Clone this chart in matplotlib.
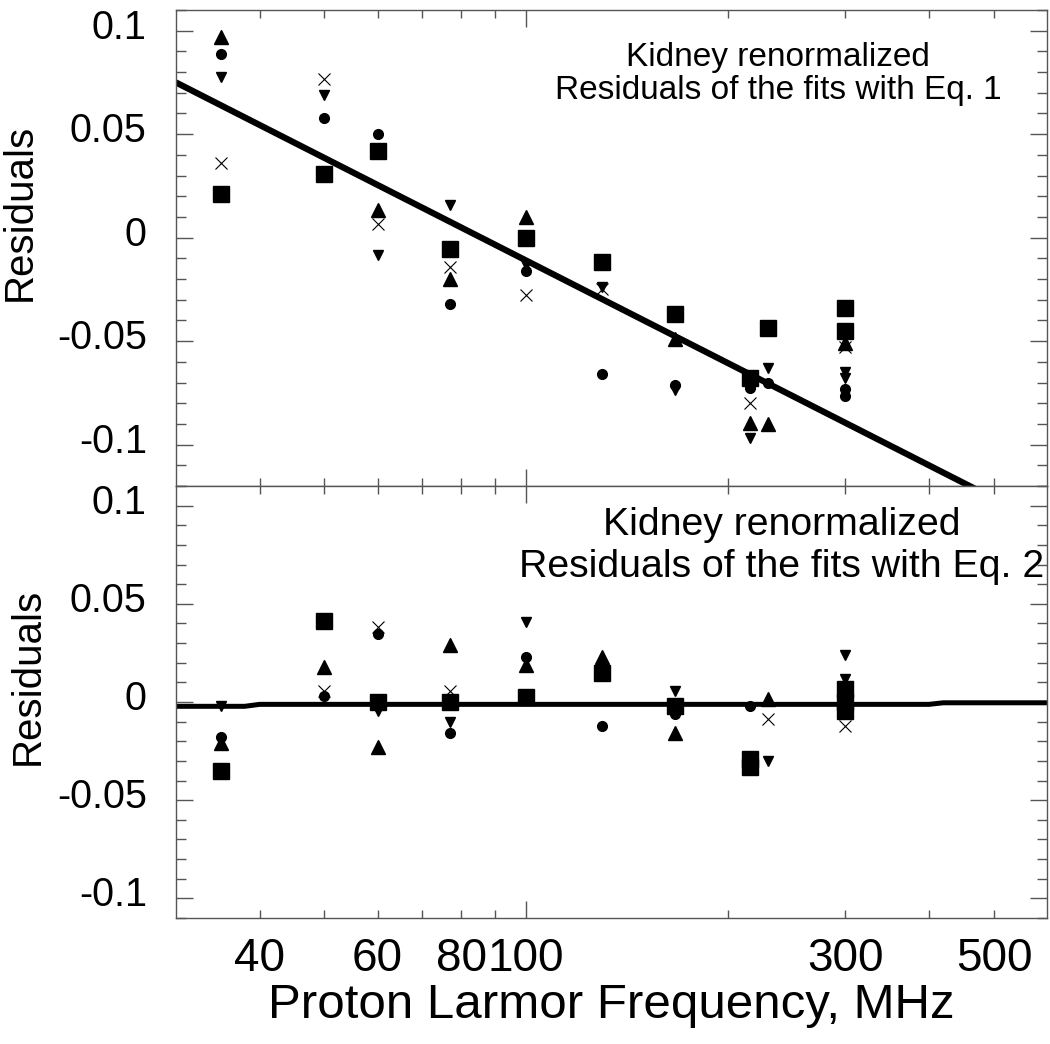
import matplotlib
matplotlib.use("Agg")
import matplotlib.pyplot as plt
from matplotlib.ticker import FixedLocator, FuncFormatter
from matplotlib.transforms import ScaledTranslation

plt.rcParams['font.family'] = ['Liberation Sans', 'DejaVu Sans']
plt.rcParams['axes.unicode_minus'] = False

# residuals of the fits with Eq. 1 (upper panel)
up_f1 = [35, 60, 77, 100, 167, 216, 230, 300]
up_r1 = [0.097, 0.0136, -0.020, 0.010, -0.049, -0.0896, -0.090, -0.051]
circ_f1 = [35, 50, 60, 77, 100, 130, 167, 216, 230, 300, 300]
circ_r1 = [0.0886, 0.058, 0.050, -0.032, -0.016, -0.066, -0.071, -0.0726, -0.070, -0.073, -0.0765]
down_f1 = [35, 50, 60, 77, 100, 130, 167, 216, 230, 300, 300]
down_r1 = [0.0775, 0.069, -0.0082, 0.016, -0.013, -0.024, -0.0737, -0.097, -0.063, -0.065, -0.068]
cross_f1 = [35, 50, 60, 77, 100, 130, 216, 300]
cross_r1 = [0.036, 0.0765, 0.0068, -0.014, -0.0276, -0.025, -0.080, -0.053]
sq_f1 = [35, 50, 60, 77, 100, 130, 167, 216, 230, 300, 300]
sq_r1 = [0.021, 0.031, 0.042, -0.0053, 0.0, -0.0116, -0.037, -0.068, -0.0436, -0.034, -0.045]
fit1_f = [30, 600]
fit1_r = [0.075, -0.139]

# residuals of the fits with Eq. 2 (lower panel)
up_f2 = [35, 50, 60, 77, 100, 130, 167, 230]
up_r2 = [-0.021, 0.0178, -0.023, 0.029, 0.019, 0.023, -0.016, 0.0015]
circ_f2 = [35, 50, 60, 77, 100, 130, 167, 216]
circ_r2 = [-0.018, 0.003, 0.0345, -0.016, 0.023, -0.012, -0.006, -0.002]
down_f2 = [35, 60, 77, 100, 167, 230, 300, 300]
down_r2 = [-0.002, -0.0045, -0.010, 0.0405, 0.0056, -0.030, 0.024, 0.0117]
cross_f2 = [50, 60, 77, 230, 300]
cross_r2 = [0.0056, 0.038, 0.0056, -0.0086, -0.012]
sq_f2 = [35, 50, 60, 77, 100, 130, 167, 216, 216, 300, 300, 300]
sq_r2 = [-0.035, 0.041, 0.0, 0.0, 0.0025, 0.015, -0.002, -0.029, -0.033, 0.0066, 0.0, -0.0046]
fit2_f = [30, 38, 40, 400, 420, 600]
fit2_r = [-0.0022, -0.0022, -0.0012, -0.0012, -0.0004, -0.0004]

xticks_minor = [40, 50, 60, 70, 80, 90, 200, 300, 400, 500]
xlabels_shown = [40, 60, 80, 300, 500]
yticks_major = [-0.1, -0.05, 0, 0.05, 0.1]

fig = plt.figure(figsize=(10.5, 10.44), dpi=100)
gs = fig.add_gridspec(2, 1, height_ratios=[476, 432], hspace=0,
                      left=0.1676, right=0.9971, top=0.9904, bottom=0.1207)
ax1 = fig.add_subplot(gs[0])
ax2 = fig.add_subplot(gs[1], sharex=ax1)

def draw(ax, data, fit_f, fit_r, lw):
    ax.plot(fit_f, fit_r, '-', color='black', lw=lw, solid_capstyle='butt', zorder=2)
    (uf, ur), (cf, cr), (df, dr), (xf, xr), (sf, sr) = data
    ax.plot(uf, ur, '^', color='black', ms=10, ls='none', zorder=3)
    ax.plot(cf, cr, 'o', color='black', ms=7, ls='none', zorder=3)
    ax.plot(df, dr, 'v', color='black', ms=7, ls='none', zorder=3)
    ax.plot(xf, xr, 'x', color='black', ms=8, mew=0.8, ls='none', zorder=3)
    ax.plot(sf, sr, 's', color='black', ms=11, ls='none', zorder=3)

draw(ax1, [(up_f1, up_r1), (circ_f1, circ_r1), (down_f1, down_r1),
           (cross_f1, cross_r1), (sq_f1, sq_r1)], fit1_f, fit1_r, 4.5)
draw(ax2, [(up_f2, up_r2), (circ_f2, circ_r2), (down_f2, down_r2),
           (cross_f2, cross_r2), (sq_f2, sq_r2)], fit2_f, fit2_r, 3.6)

ax1.set_xscale('log')
ax1.set_xlim(30, 600)
ax1.set_ylim(-0.12, 0.11)
ax2.set_ylim(-0.11, 0.11)

ax2.xaxis.set_major_locator(FixedLocator([100]))
ax2.xaxis.set_minor_locator(FixedLocator(xticks_minor))
ax2.xaxis.set_major_formatter(FuncFormatter(lambda v, p: '%d' % v))
ax2.xaxis.set_minor_formatter(FuncFormatter(
    lambda v, p: '%d' % v if int(round(v)) in xlabels_shown else ''))

shift = ScaledTranslation(0, 5 / 72, fig.dpi_scale_trans)
for ax in (ax1, ax2):
    ax.yaxis.set_major_locator(FixedLocator(yticks_major))
    ax.yaxis.set_minor_locator(FixedLocator([i / 100 for i in range(-12, 12)]))
    ax.yaxis.set_major_formatter(FuncFormatter(lambda v, p: '%g' % v))
    ax.tick_params(which='both', direction='in', top=True, right=True,
                   color='#555555', width=1)
    ax.tick_params(axis='y', which='major', length=12, pad=21, labelsize=28.5)
    ax.tick_params(axis='y', which='minor', length=7)
    ax.tick_params(axis='x', which='major', length=12, pad=14, labelsize=33)
    ax.tick_params(axis='x', which='minor', length=6, pad=14, labelsize=33)
    for s in ax.spines.values():
        s.set_color('#555555')
        s.set_linewidth(1)
    for lab in ax.get_yticklabels():
        lab.set_transform(lab.get_transform() + shift)
    ax.set_ylabel('Residuals', fontsize=29)

ax1.tick_params(axis='x', which='both', labelbottom=False)
ax1.yaxis.set_label_coords(-0.158, 0.575)
ax2.yaxis.set_label_coords(-0.148, 0.56)

ax2.set_xlabel('Proton Larmor Frequency, MHz', fontsize=35.5, labelpad=1)

ax1.text(0.691, 0.866, 'Kidney renormalized\nResiduals of the fits with Eq. 1',
         transform=ax1.transAxes, ha='center', va='center', fontsize=24,
         linespacing=1.1, multialignment='center')
ax2.text(0.695, 0.861, 'Kidney renormalized\nResiduals of the fits with Eq. 2',
         transform=ax2.transAxes, ha='center', va='center', fontsize=28.3,
         linespacing=1.2, multialignment='center')

fig.savefig('out.png', dpi=100)
